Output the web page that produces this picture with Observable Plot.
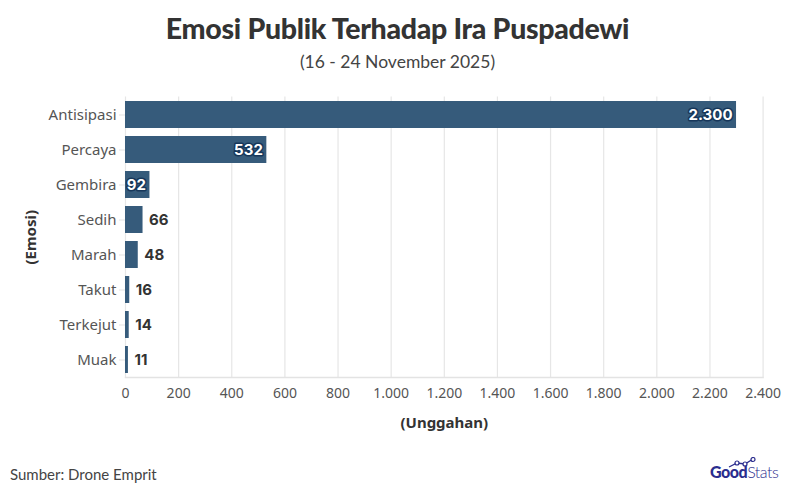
<!DOCTYPE html>
<html>
<head>
<meta charset="utf-8">
<script src="https://cdn.jsdelivr.net/npm/d3@7"></script>
<script src="https://cdn.jsdelivr.net/npm/@observablehq/plot@0.6"></script>
<style>
  html, body { margin: 0; padding: 0; background: #fff; }
  body { width: 795px; height: 504px; position: relative; overflow: hidden; font-family: "Lato", "Noto Sans", sans-serif; }
  #title { position: absolute; top: 11px; left: 0; width: 795px; text-align: center; font-family: "Lato", sans-serif; font-weight: 900; font-size: 28.5px; color: #333; letter-spacing: -0.3px; }
  #subtitle { position: absolute; top: 51px; left: 0; width: 795px; text-align: center; font-family: "Lato", sans-serif; font-weight: 400; font-size: 17.5px; color: #444; }
  #chart { position: absolute; top: 85px; left: 0; }
  #source { position: absolute; top: 465px; left: 10px; font-family: "Lato", sans-serif; font-size: 15px; color: #444; }
  #logo { position: absolute; top: 462px; left: 710px; font-family: "Lato", sans-serif; font-size: 16px; color: #2b2d8e; letter-spacing: -0.5px; }
  #logo b { font-weight: 900; }
  #logo span { font-weight: 300; }
  #logo svg { position: absolute; left: 16px; top: -5px; }
</style>
</head>
<body>
<div id="title">Emosi Publik Terhadap Ira Puspadewi</div>
<div id="subtitle">(16 - 24 November 2025)</div>
<div id="chart"></div>
<div id="source">Sumber: Drone Emprit</div>
<div id="logo"><svg width="34" height="12"><polyline points="3,10 11,6 19,7 27,2" fill="none" stroke="#2b2d8e" stroke-width="1.3"/><circle cx="11" cy="6" r="2" fill="#fff" stroke="#2b2d8e" stroke-width="1.2"/><circle cx="19" cy="7" r="2" fill="#fff" stroke="#2b2d8e" stroke-width="1.2"/><circle cx="27" cy="2.5" r="2" fill="#fff" stroke="#2b2d8e" stroke-width="1.2"/></svg><b>Good</b><span>Stats</span></div>
<script>
const categories = ["Antisipasi", "Percaya", "Gembira", "Sedih", "Marah", "Takut", "Terkejut", "Muak"];
const values = [2300, 532, 92, 66, 48, 16, 14, 11];
const xTicks = [0, 200, 400, 600, 800, 1000, 1200, 1400, 1600, 1800, 2000, 2200, 2400];

const data = categories.map((c, i) => ({category: c, value: values[i]}));
const locale = d3.formatLocale({decimal: ",", thousands: ".", grouping: [3], currency: ["Rp", ""]});
const fmt = locale.format(",d");
const insideThreshold = 90;

const chart = Plot.plot({
  width: 795,
  height: 360,
  marginTop: 11.5,
  marginBottom: 68,
  marginLeft: 125,
  marginRight: 32.4,
  style: {fontFamily: "'Noto Sans', sans-serif", fontSize: "13px", color: "#555", background: "transparent"},
  x: {domain: [0, 2400]},
  y: {domain: categories, paddingInner: 0.23, paddingOuter: 0.11},
  marks: [
    Plot.gridX(xTicks, {stroke: "#e6e6e6", strokeOpacity: 1, strokeWidth: 1.2}),
    Plot.frame({anchor: "bottom", stroke: "#e3e3e3", strokeWidth: 1.5}),
    Plot.barX(data, {y: "category", x: "value", fill: "#365b7b"}),
    Plot.text(data.filter(d => d.value >= insideThreshold), {
      y: "category", x: "value", text: d => fmt(d.value), textAnchor: "end", dx: -4,
      fill: "white", stroke: "#17375a", strokeWidth: 3, paintOrder: "stroke",
      fontWeight: "bold", fontSize: 15, fontFamily: "Inter, sans-serif"
    }),
    Plot.text(data.filter(d => d.value < insideThreshold), {
      y: "category", x: "value", text: d => fmt(d.value), textAnchor: "start", dx: 6,
      fill: "#333", fontWeight: "bold", fontSize: 15, fontFamily: "Inter, sans-serif"
    }),
    Plot.axisX({ticks: xTicks, tickFormat: fmt, tickSize: 0, tickPadding: 11, fill: "#555", fontSize: 14,
      label: "(Unggahan)", labelAnchor: "center", labelArrow: "none", labelOffset: 50}),
    Plot.axisY({tickSize: 6, stroke: "#e3e3e3", tickPadding: 3, fill: "#555", fontSize: 15,
      label: "(Emosi)", labelAnchor: "center", labelArrow: "none", labelOffset: 100})
  ]
});
chart.querySelectorAll("g[aria-label='x-axis label'] text, g[aria-label='y-axis label'] text").forEach(t => {
  t.setAttribute("font-weight", "bold");
  t.setAttribute("font-size", "15");
  t.setAttribute("fill", "#333");
});
document.getElementById("chart").appendChild(chart);
</script>
</body>
</html>
